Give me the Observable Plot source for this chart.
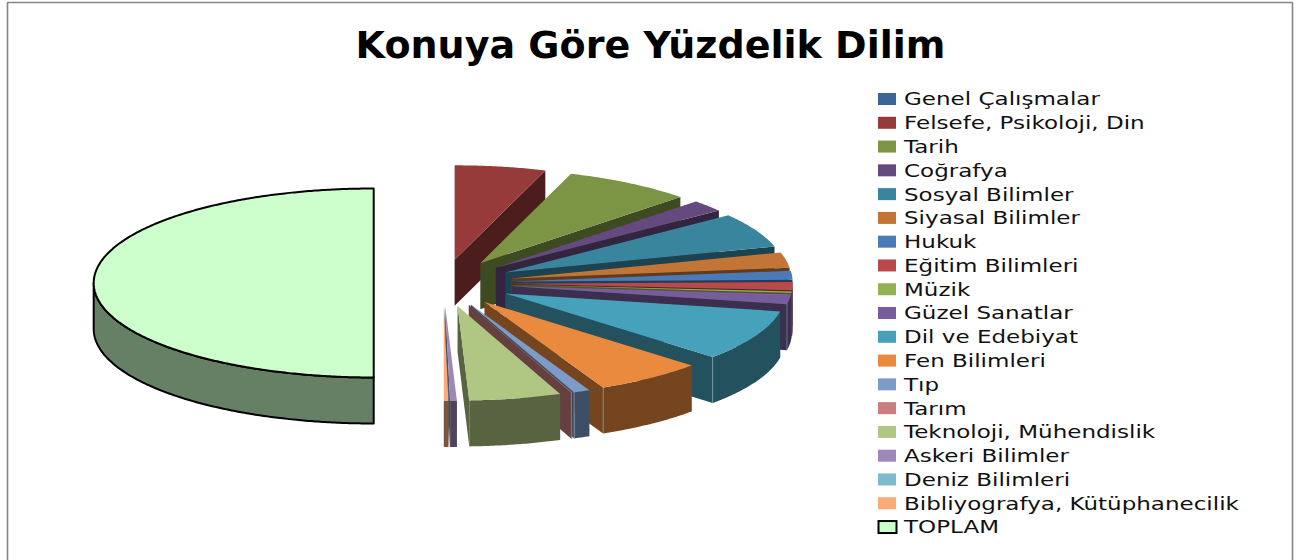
<!DOCTYPE html>
<html>
<head>
<meta charset="utf-8">
<script src="https://cdn.jsdelivr.net/npm/d3@7"></script>
<script src="https://cdn.jsdelivr.net/npm/@observablehq/plot@0.6"></script>
<style>
html,body{margin:0;padding:0;background:#fff;overflow:hidden}
svg{display:block}
</style>
</head>
<body>
<div id="chart"></div>
<script>
const chartTitle = "Konuya Göre Yüzdelik Dilim";
const categories = ["Genel Çalışmalar","Felsefe, Psikoloji, Din","Tarih","Coğrafya","Sosyal Bilimler","Siyasal Bilimler","Hukuk","Eğitim Bilimleri","Müzik","Güzel Sanatlar","Dil ve Edebiyat","Fen Bilimleri","Tıp","Tarım","Teknoloji, Mühendislik","Askeri Bilimler","Deniz Bilimleri","Bibliyografya, Kütüphanecilik","TOPLAM"];
const values = [0,10.5,14.84,4.0,11.78,5.28,3.06,2.78,0.5,3.33,17.39,12.61,1.89,0.1,10.61,0.78,0.02,0.53,100];
const colors = ["#3D6596","#963B3A","#7B9544","#654A7F","#38859D","#C27535","#4A7AB8","#B84A4A","#93B254","#775C9E","#46A1BB","#E98A3F","#7C9BC9","#CB7E7D","#B0C683","#9D88B7","#7DB9CF","#FCAA77","#CCFFCC"];

// Pie layout
const cx = 442.7, cy = 282.5, rx = 280, ry = 94.5, depth = 46, explodeX = 69.5, explodeY = 23.5;
const rad = d => d * Math.PI / 180;
const total = d3.sum(values);
const shade = c => { const k = d3.rgb(c); return d3.rgb(k.r / 2, k.g / 2, k.b / 2).formatHex(); };
let running = 0;
const slices = categories.map((name, i) => {
  const a0 = running / total * 360; running += values[i];
  const a1 = running / total * 360; const m = (a0 + a1) / 2;
  return {name, a0, a1, top: colors[i], side: shade(colors[i]),
    tx: cx + explodeX * Math.sin(rad(m)), ty: cy - explodeY * Math.cos(rad(m))};
}).filter(s => s.a1 > s.a0);
const rim = (s, a) => [s.tx + rx * Math.sin(rad(a)), s.ty - ry * Math.cos(rad(a))];
const arc = (s, a0, a1) => {
  const n = Math.max(1, Math.ceil((a1 - a0) / 0.5));
  return d3.range(n + 1).map(i => rim(s, a0 + (a1 - a0) * i / n));
};
const faces = s => {
  const out = [];
  const add = (part, fill, pts) => out.push({id: s.name + "|" + part, fill, pts});
  if (s.a1 <= 180) {
    const e = rim(s, s.a1);
    add("end", s.side, [[s.tx, s.ty], e, [e[0], e[1] + depth], [s.tx, s.ty + depth]]);
  }
  const f0 = Math.max(s.a0, 90), f1 = Math.min(s.a1, 270);
  if (f1 > f0) {
    const a = arc(s, f0, f1);
    add("front", s.side, [...a, ...a.slice().reverse().map(p => [p[0], p[1] + depth])]);
  }
  add("top", s.top, [[s.tx, s.ty], ...arc(s, s.a0, s.a1)]);
  return out;
};
const flatten = list => list.flatMap(f => [...f.pts, f.pts[0]].map(p => ({id: f.id, fill: f.fill, x: p[0], y: p[1]})));
const pieces = slices.slice(0, -1).flatMap(faces);
const whole = faces(slices[slices.length - 1]);
const corners = slices.slice(0, -1).filter(s => s.a1 > 100 && s.a1 < 170).flatMap(s => {
  const e = rim(s, s.a1);
  return [{id: s.name, x: e[0], y: e[1]}, {id: s.name, x: e[0], y: e[1] + depth}];
});

// Legend
const legendTop = 99, legendStep = 23.78;
const legend = categories.map((name, i) => ({name, fill: colors[i], y: legendTop + i * legendStep}));

const chart = Plot.plot({
  width: 1299, height: 560, margin: 0,
  x: {domain: [0, 1299], range: [0, 1299], axis: null},
  y: {domain: [0, 560], range: [0, 560], axis: null},
  color: {type: "identity"},
  style: {background: "#fff", overflow: "hidden"},
  marks: [
    Plot.line([[7, 560], [7, 2], [1292, 2], [1292, 560]].map(([x, y]) => ({x, y})), {x: "x", y: "y", stroke: "#868686", strokeWidth: 1.6, strokeLinejoin: "miter"}),
    Plot.line(flatten(whole), {x: "x", y: "y", z: "id", fill: "fill", stroke: "#000", strokeWidth: 2}),
    Plot.line(flatten(pieces), {x: "x", y: "y", z: "id", fill: "fill", stroke: "none"}),
    Plot.line(corners, {x: "x", y: "y", z: "id", stroke: "#9fc4cf", strokeOpacity: 0.6, strokeWidth: 0.8}),
    Plot.text([chartTitle], {x: () => 650, y: () => 46, text: d => d, fontSize: 37, fontWeight: 700, fontFamily: "DejaVu Sans", fill: "#000", textAnchor: "middle", className: "title-text"}),
    Plot.rect(legend.slice(0, -1), {x1: () => 878, x2: () => 896, y1: d => d.y - 6, y2: d => d.y + 6, fill: "fill"}),
    Plot.rect(legend.slice(-1), {x1: () => 878.5, x2: () => 896.5, y1: d => d.y - 6, y2: d => d.y + 6, fill: "fill", stroke: "#000", strokeWidth: 2}),
    Plot.text(legend, {x: () => 903.5, y: "y", text: "name", fontSize: 18.5, fontFamily: "DejaVu Sans", fill: "#111", textAnchor: "start", className: "legend-text"})
  ]
});
// The reference's type is stretched sideways: widen the real text to its measured widths.
const stretch = (sel, k) => d3.select(chart).selectAll(sel).attr("transform", function () {
  return (this.getAttribute("transform") || "") + ` scale(${k},1)`;
});
stretch(".title-text text", 1.028);
stretch(".legend-text text", 1.245);
document.getElementById("chart").appendChild(chart);
</script>
</body>
</html>
